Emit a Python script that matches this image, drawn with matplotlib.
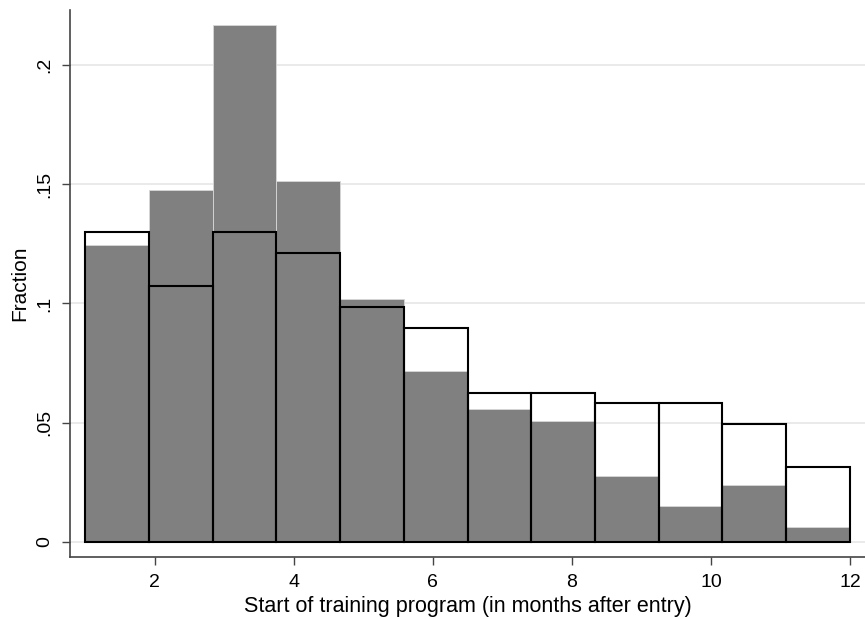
import matplotlib.pyplot as plt
import numpy as np

plt.rcParams['font.family'] = ['Liberation Sans', 'DejaVu Sans']

# bin edges: 12 equal bins between month 1 and month 12
edges = np.linspace(1, 12, 13)

# filled (gray) histogram
frac_filled = [0.1245, 0.1476, 0.2168, 0.1514, 0.1019, 0.0717,
               0.0558, 0.0507, 0.0277, 0.0151, 0.0239, 0.0063]
# outlined histogram
frac_outline = [0.1300, 0.1073, 0.1300, 0.1212, 0.0985, 0.0897,
                0.0625, 0.0625, 0.0583, 0.0583, 0.0495, 0.0314]

yticks = [0, 0.05, 0.1, 0.15, 0.2]
ytick_labels = ['0', '.05', '.1', '.15', '.2']
xticks = [2, 4, 6, 8, 10, 12]

fig = plt.figure(figsize=(8.65, 6.19), dpi=100)
ax = fig.add_axes([70 / 865, 62 / 619, 795 / 865, 547 / 619])

left = edges[:-1]
width = np.diff(edges)

ax.bar(left, frac_filled, width=width, align='edge', color='#808080',
       edgecolor='#d8d8d8', linewidth=0.6, zorder=2)
ax.bar(left, frac_outline, width=width, align='edge', fill=False,
       edgecolor='black', linewidth=1.5, zorder=3)

ax.set_xlim(0.784, 12.216)
ax.set_ylim(-0.0063, 0.223)

ax.set_yticks(yticks)
ax.set_yticklabels(ytick_labels, rotation=90, va='center')
ax.set_xticks(xticks)

ax.yaxis.grid(True, color='#e6e6e6', linewidth=1.2, zorder=0)
ax.set_axisbelow(True)

for s in ['top', 'right']:
    ax.spines[s].set_visible(False)
for s in ['left', 'bottom']:
    ax.spines[s].set_color('#444444')
    ax.spines[s].set_linewidth(1.2)

ax.tick_params(axis='both', direction='out', length=6, width=1.0,
               color='#444444', labelsize=14, pad=6)

ax.set_xlabel('Start of training program (in months after entry)', fontsize=15.5, labelpad=4)
ax.set_ylabel('Fraction', fontsize=15, labelpad=5)

fig.savefig('out.png', dpi=100)
